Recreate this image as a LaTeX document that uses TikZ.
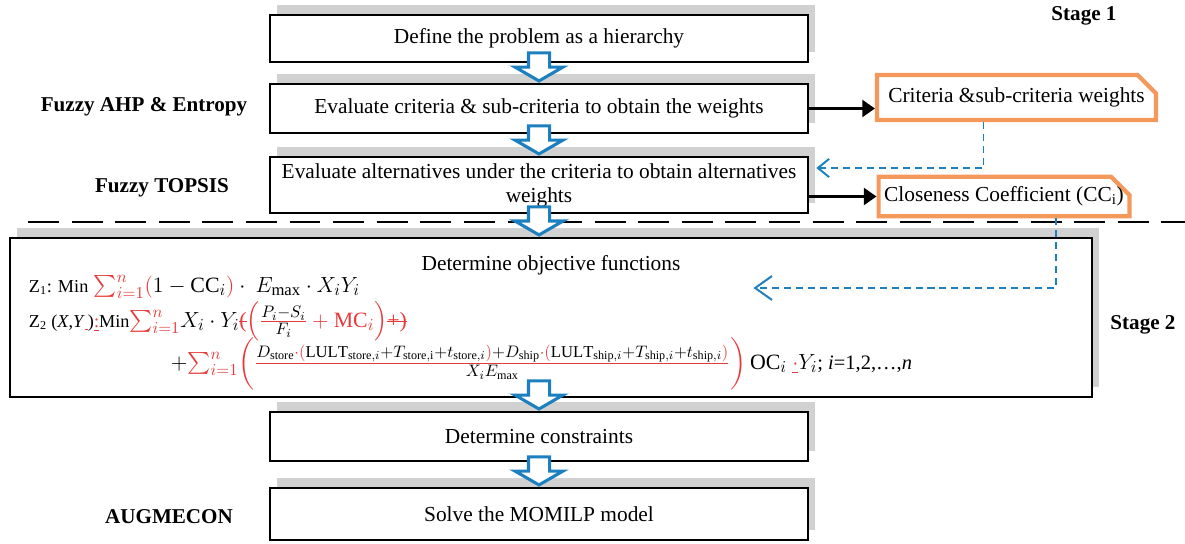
\documentclass[tikz,border=0pt]{standalone}
\usepackage{amsmath}
\usepackage{fontspec}
\setmainfont{Liberation Serif}
\usetikzlibrary{shapes.arrows,shapes.misc,shadows,calc,arrows.meta}
\definecolor{flowblue}{RGB}{28,128,192}
\definecolor{boxorange}{RGB}{245,152,92}
\definecolor{trackred}{RGB}{232,58,58}
\DeclareMathSizes{14.4}{14.4}{10.95}{8}
\newcommand{\rd}[1]{\textcolor{trackred}{#1}}
\newcommand{\strk}[1]{\setbox0\hbox{#1}\rlap{\rule[0.55ex]{\wd0}{0.7pt}}\box0}
\newcommand{\smtext}[1]{{\fontsize{12}{14}\selectfont #1}}

\begin{document}
\begin{tikzpicture}[x=0.025cm,y=-0.025cm,
	stepbox/.style={draw, line width=1.8pt, fill=white, minimum width=13.45cm, align=center,
		font=\fontsize{15.2}{17}\selectfont,
		general shadow={fill=black!18, shadow xshift=5pt, shadow yshift=7pt}},
	resultbox/.style={draw=boxorange, line width=3pt, chamfered rectangle,
		chamfered rectangle corners=north east, chamfered rectangle xsep=7pt,
		chamfered rectangle ysep=6pt, inner sep=1pt, font=\fontsize{15.2}{17}\selectfont},
	method/.style={font=\fontsize{15}{17}\selectfont\bfseries, inner sep=0pt},
	steptext/.style={font=\fontsize{15.2}{17}\selectfont, inner sep=0pt},
	mathtext/.style={font=\fontsize{14.4}{17}\selectfont, inner sep=0pt, scale=1.08, transform shape},
	blockarrow/.style={single arrow, draw=flowblue, fill=white, line width=2.2pt, rotate=-90,
		anchor=tip, minimum height=20pt, inner xsep=0pt, inner ysep=6.4pt,
		single arrow head extend=9.6pt, single arrow tip angle=120},
	result/.style={line width=2pt, -{Triangle[length=9pt,width=12pt]}},
	feedback/.style={flowblue, line width=1.4pt, dash pattern=on 5pt off 3.5pt,
		-{Straight Barb[length=8pt,width=13pt]}}]
	\useasboundingbox (0,0) rectangle (1185,544);

	\node[stepbox, minimum height=1.175cm] (define) at (539,38.5) {Define the problem as a hierarchy};
	\node[stepbox, minimum height=1.225cm] (criteria) at (539,108.5) {Evaluate criteria \& sub-criteria to obtain the weights};
	\node[stepbox, minimum height=1.4cm, inner sep=1pt] (alter) at (539,185) {Evaluate alternatives under the criteria to obtain alternatives\\weights};
	\draw[line width=2pt, dash pattern=on 22pt off 9pt] (28,222) -- (1185,222);
	\node[stepbox, minimum width=27.05cm, minimum height=3.975cm] (objfun) at (551,317.5) {};
	\node[stepbox, minimum height=1.225cm] (constr) at (539,436.5) {Determine constraints};
	\node[stepbox, minimum height=1.3cm] (solve) at (539,514) {Solve the MOMILP model};

	\node[steptext] (objtitle) at ($(objfun.north)+(0,29)$) {Determine objective functions};
	\node[mathtext, anchor=west] (zone) at ($(objfun.north west)+(20,50)$)
		{\smtext{Z\textsubscript{1}: Min} $\rd{\sum_{i=1}^{n}}\rd{(}1-\mathrm{CC}_i\rd{)}\cdot\ E_{\max}\cdot X_iY_i$};
	\node[mathtext, anchor=west] (ztwo) at ($(objfun.north west)+(20,85)$)
		{\smtext{Z\textsubscript{2} (\textit{X},\textit{Y}\rd{\underline{\,}})\rd{\underline{:}}Min}$\rd{\sum_{i=1}^{n}}X_i\cdot Y_i\rd{\text{\strk{(}}}\rd{\Bigl(}\rd{\frac{\color{black}P_i-S_i}{\color{black}F_i}}\rd{{}+\mathrm{MC}_i}\rd{\Bigr)}\rd{\text{\strk{+)}}}$};
	\node[mathtext, anchor=west] (zthree) at ($(objfun.north west)+(162,127)$)
		{$+\rd{\sum_{i=1}^{n}}\rd{\biggl(}\rd{\frac{\color{black}D_{\mathrm{store}}\rd{\cdot(}\mathrm{LULT}_{\mathrm{store},i}+T_{\mathrm{store,i}}+t_{\mathrm{store},i}\rd{)}+D_{\mathrm{ship}}\rd{\cdot(}\mathrm{LULT}_{\mathrm{ship},i}+T_{\mathrm{ship},i}+t_{\mathrm{ship},i}\rd{)}}{\color{black}X_iE_{\max}}}\rd{\biggr)}\,\mathrm{OC}_i\ \rd{\underline{\cdot}}Y_i${\fontsize{13.5}{16}\selectfont; \textit{i}=1,2,\dots,\textit{n}}};

	\node[method] (stage1) at (1084,16) {Stage 1};
	\node[method] (ahp) at (144,107) {Fuzzy AHP \& Entropy};
	\node[method] (topsis) at (162,188) {Fuzzy TOPSIS};
	\node[method] (stage2) at (1143,325) {Stage 2};
	\node[method] (augm) at (169,517) {AUGMECON};

	\node[resultbox, minimum width=6.925cm, minimum height=1.125cm] (weights) at (1016.5,97.5) {Criteria \&sub-criteria weights};
	\node[resultbox, inner xsep=-3pt, minimum height=0.925cm] (closeness) at (1004,196.5) {Closeness Coefficient (CC\textsubscript{i})};

	\draw[result] (criteria.east) -- (criteria.east -| weights.west);
	\draw[result] (closeness.west -| alter.east) -- (closeness.west);
	\draw[feedback] ($(weights.south)+(-33,0)$) |- ($(alter.east)+(7,-17)$);
	\draw[feedback, -{Straight Barb[length=12pt,width=17pt]}] ($(closeness.south)+(52,0)$) |- ($(objfun.east)+(-340,-29.5)$);

	\node[blockarrow] (flow1) at (criteria.north) {};
	\node[blockarrow] (flow2) at (alter.north) {};
	\node[blockarrow] (flow3) at (objfun.north -| alter.south) {};
	\node[blockarrow] (flow4) at (constr.north) {};
	\node[blockarrow] (flow5) at (solve.north) {};
\end{tikzpicture}
\end{document}
